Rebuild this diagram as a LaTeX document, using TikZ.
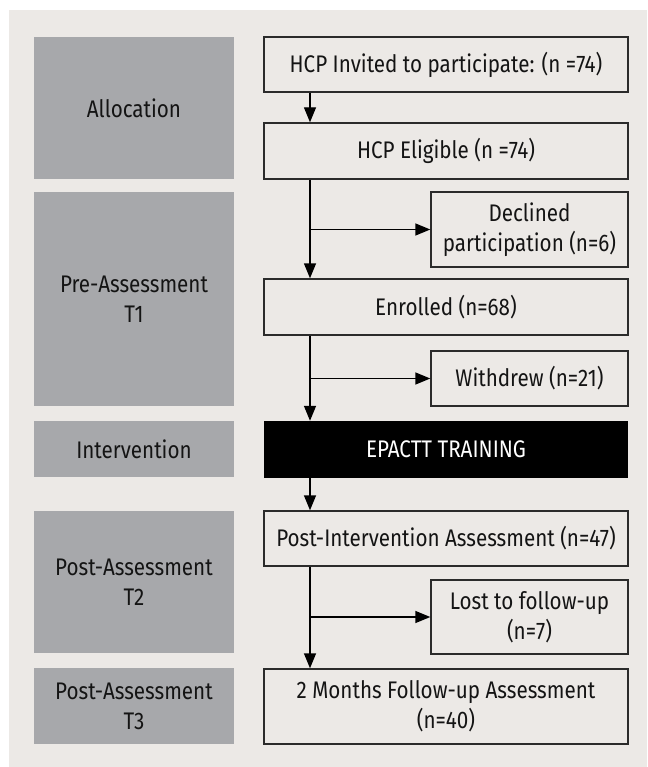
\documentclass[tikz,border=0pt]{standalone}
\usepackage{fontspec}
\setmainfont[FakeStretch=0.86]{Fira Sans}
\usetikzlibrary{arrows.meta}

\definecolor{panelbg}{HTML}{ECE9E6}
\definecolor{phasegray}{HTML}{A7A8AB}
\definecolor{boxline}{HTML}{2B2B2B}

\tikzset{
  every node/.style={font=\fontsize{24}{30}\selectfont, text=black!92, align=center, inner sep=0pt},
  phase/.style={fill=phasegray, minimum width=200},
  stepbox/.style={draw=boxline, line width=1.4pt, minimum width=364},
  sidebox/.style={draw=boxline, line width=1.4pt, minimum width=197},
  trainbox/.style={fill=black, text=white, minimum width=364},
  arr/.style={-{Triangle[length=15pt, width=12pt]}, line width=1.4pt, draw=black},
}

\begin{document}
\begin{tikzpicture}[x=1pt, y=-1pt]
  \useasboundingbox (0,0) rectangle (647,767);
  \fill[panelbg] (9,10) rectangle (647,767);

  % phases on the left
  \node[phase, minimum height=142] (alloc) at (134,108) {Allocation};
  \node[phase, minimum height=214] (pre) at (134,299) {Pre-Assessment\\T1};
  \node[phase, minimum height=56] (interv) at (134,449) {Intervention};
  \node[phase, minimum height=142] (postA) at (134,582) {Post-Assessment\\T2};
  \node[phase, minimum height=76] (postB) at (134,706) {Post-Assessment\\T3};

  % main flow
  \node[stepbox, minimum height=55] (invited) at (446,64.5) {HCP Invited to participate: (n =74)};
  \node[stepbox, minimum height=56] (eligible) at (446,151) {HCP Eligible (n =74)};
  \node[sidebox, minimum height=75] (declined) at (529.5,229.5) {Declined\\participation (n=6)};
  \node[stepbox, minimum height=56] (enrolled) at (446,307) {Enrolled (n=68)};
  \node[sidebox, minimum height=55] (withdrew) at (529.5,378.5) {Withdrew (n=21)};
  \node[trainbox, minimum height=57] (training) at (446,449.5) {EPACTT TRAINING};
  \node[stepbox, minimum height=55] (postint) at (446,538.5) {Post-Intervention Assessment (n=47)};
  \node[sidebox, minimum height=74] (lost) at (529.5,617) {Lost to follow-up\\(n=7)};
  \node[stepbox, minimum height=75] (followup) at (446,706.5) {2 Months Follow-up Assessment\\(n=40)};

  \coordinate (trunk) at (310,0);

  % arrows
  \draw[arr] (invited.south -| trunk) -- (eligible.north -| trunk);
  \draw[arr] (eligible.south -| trunk) -- (enrolled.north -| trunk);
  \draw[arr] (declined.west -| trunk) -- (declined.west);
  \draw[arr] (enrolled.south -| trunk) -- (training.north -| trunk);
  \draw[arr] (withdrew.west -| trunk) -- (withdrew.west);
  \draw[arr] (training.south -| trunk) -- (postint.north -| trunk);
  \draw[arr] (postint.south -| trunk) -- (followup.north -| trunk);
  \draw[arr] (lost.west -| trunk) -- (lost.west);
\end{tikzpicture}
\end{document}
